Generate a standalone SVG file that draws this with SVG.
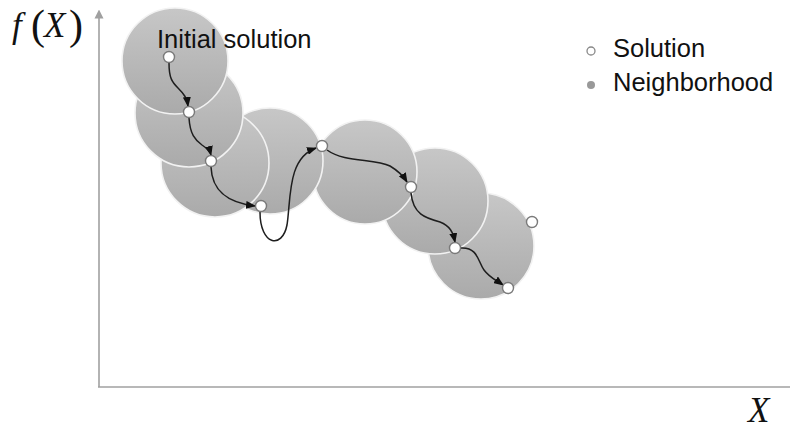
<svg xmlns="http://www.w3.org/2000/svg" width="790" height="429" viewBox="0 0 790 429">
<style>
.nb{fill:url(#g);stroke:#f2f2f2;stroke-width:1.6}
.sol{fill:#fff;stroke:#7a7a7a;stroke-width:1.4}
.ax{stroke:#a0a0a0;stroke-width:1.6;fill:none}
.ed{fill:none;stroke:#1e1e1e;stroke-width:1.5;marker-end:url(#ah)}
.lbl{font-family:"Liberation Sans",Arial,sans-serif;font-size:25.5px;fill:#111}
.math{font-family:"Liberation Serif","Times New Roman",serif;font-size:35px;fill:#111}
</style>
<defs>
<linearGradient id="g" x1="0" y1="0" x2="0" y2="1">
<stop offset="0" stop-color="#c7c7c7"/>
<stop offset="1" stop-color="#aaaaaa"/>
</linearGradient>
<marker id="ah" viewBox="0 0 10 10" refX="9" refY="5" markerWidth="10" markerHeight="8" orient="auto" markerUnits="userSpaceOnUse" preserveAspectRatio="none">
<path d="M0,0 L10,5 L0,10 z" fill="#111"/>
</marker>
<marker id="axh" viewBox="0 0 10 10" refX="5" refY="5" markerWidth="9" markerHeight="10" orient="auto" markerUnits="userSpaceOnUse">
<path d="M0,0 L10,5 L0,10 z" fill="#a0a0a0"/>
</marker>
</defs>
<g id="axes">
<line class="ax" x1="99" y1="387" x2="99" y2="14" marker-end="url(#axh)"/>
<line class="ax" x1="98" y1="387" x2="790" y2="387"/>
<text class="math" x="12" y="37"><tspan font-style="italic">f</tspan><tspan x="31" y="39" font-size="42">(</tspan><tspan x="44" y="37" font-style="italic">X</tspan><tspan x="69" y="39" font-size="42">)</tspan></text>
<text class="math" x="748" y="422" font-style="italic">X</text>
</g>
<g id="neighborhoods">
<circle id="n7" class="nb" cx="481" cy="246" r="53"/>
<circle id="n6" class="nb" cx="435" cy="201" r="53"/>
<circle id="n5" class="nb" cx="365" cy="172" r="52"/>
<circle id="n4" class="nb" cx="270" cy="161" r="53"/>
<circle id="n3" class="nb" cx="215" cy="163" r="54"/>
<circle id="n2" class="nb" cx="189" cy="113" r="54"/>
<circle id="n1" class="nb" cx="175" cy="61" r="53"/>
</g>
<g id="connectors">
<path class="ed" d="M169,63 C169,78 172,82 178,88 C184,94 187,98 188,106"/>
<path class="ed" d="M189,118 C190,134 195,140 202,145 C208,149 210,151 211,155"/>
<path class="ed" d="M211,167 C212,193 230,203 255,206"/>
<path class="ed" d="M260,212 C260,245 282,250 287,225 C291,200 287,158 316,148"/>
<path class="ed" d="M327,150 C345,163 375,158 390,166 C400,172 404,177 407,182"/>
<path class="ed" d="M411,193 C413,214 425,218 440,222 C450,226 453,232 455,242"/>
<path class="ed" d="M461,248 C478,247 478,262 484,270 C490,278 496,280 503,285"/>
</g>
<g id="solutions">
<circle id="s1" class="sol" cx="169" cy="57" r="5.5"/>
<circle id="s2" class="sol" cx="189" cy="112" r="5.5"/>
<circle id="s3" class="sol" cx="211" cy="161" r="5.5"/>
<circle id="s4" class="sol" cx="261" cy="206" r="5.5"/>
<circle id="s5" class="sol" cx="322" cy="146" r="5.5"/>
<circle id="s6" class="sol" cx="411" cy="187" r="5.5"/>
<circle id="s7" class="sol" cx="455" cy="248" r="5.5"/>
<circle id="s8" class="sol" cx="508" cy="288" r="5.5"/>
<circle id="s9" class="sol" cx="532" cy="222" r="5.5"/>
</g>
<g id="initial-label">
<text class="lbl" x="157" y="48">Initial solution</text>
</g>
<g id="legend">
<circle cx="591" cy="51" r="4" fill="#fff" stroke="#888" stroke-width="1.3"/>
<text class="lbl" x="613" y="57">Solution</text>
<circle cx="591" cy="85" r="4" fill="#999"/>
<text class="lbl" x="613" y="91">Neighborhood</text>
</g>
</svg>
